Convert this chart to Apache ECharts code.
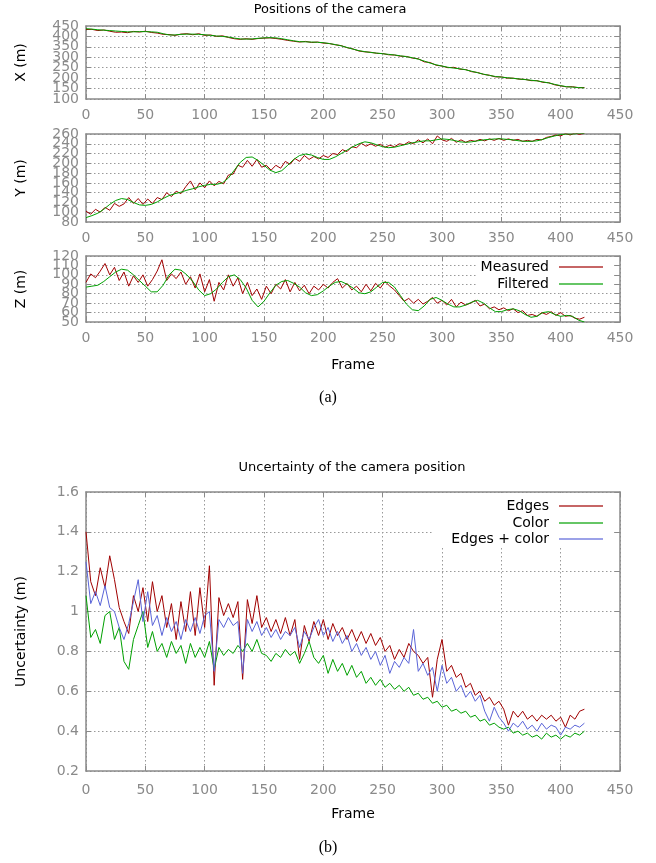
<!DOCTYPE html>
<html>
<head>
<meta charset="utf-8">
<script src="https://cdn.jsdelivr.net/npm/echarts@6/dist/echarts.min.js"></script>
<style>
  body { margin: 0; background: #fff; }
  #chart { width: 656px; height: 863px; }
</style>
</head>
<body>
<div id="chart"></div>
<script>
// frame spacing of the sampled values
const STEP_SMOOTH = 5; // filtered curves + X measured
const STEP_NOISY = 4;  // noisy measured / uncertainty curves

// (a) X position (m)
const xFiltered = [
  437,435,432,430,428,426,424,422,422,423,
  423,422,420,413,407,407,410,411,411,410,
  408,405,402,400,397,392,388,387,388,391,
  393,394,393,389,384,379,375,374,373,372,
  370,366,361,355,347,339,332,327,323,320,
  317,314,311,307,303,298,291,282,272,264,
  258,252,248,245,240,233,226,219,213,208,
  205,202,199,196,193,190,187,182,177,170,
  164,159,157,155,153
];
const xMeasured = [
  433,434,428,431,425,420,421,418,424,421,
  425,419,416,410,409,405,411,413,408,413,
  405,407,400,403,395,389,386,389,386,390,
  392,393,390,386,381,377,373,376,371,373,
  368,366,360,356,346,340,330,326,324,319,
  318,312,311,305,304,296,293,278,275,262,
  258,250,252,243,241,231,227,218,214,206,
  206,200,200,195,194,188,188,180,178,168,
  163,158,159,154,155
];

// (a) Y position (m)
const yFiltered = [
  89,93,98,106,116,124,128,126,120,115,
  114,116,121,128,134,138,141,145,148,152,
  155,157,157,160,170,186,202,212,213,206,
  196,186,181,185,196,208,216,219,217,212,
  208,208,213,220,227,234,240,244,242,238,
  234,232,233,236,239,242,244,246,246,248,
  250,249,247,244,243,244,246,248,249,250,
  250,249,248,246,245,245,246,249,253,256,
  259,260,260,261,261
];
const yMeasured = [
  102,96,106,100,110,104,118,112,117,130,
  118,128,116,127,118,130,126,140,132,143,
  138,152,164,146,160,150,164,154,163,158,
  176,178,196,192,206,194,208,192,196,186,
  196,190,204,198,210,204,216,208,214,209,
  216,212,220,218,228,224,234,232,241,235,
  240,235,239,233,237,234,240,238,244,240,
  248,242,250,240,256,248,245,251,243,248,
  243,247,245,249,246,250,247,251,247,250,
  247,249,245,247,245,249,248,253,255,258,
  256,261,258,262,259,262
];

// (a) Z position (m)
const zFiltered = [
  87,88,89,93,98,103,106,105,100,94,
  88,82,82,89,100,106,105,100,93,84,
  78,80,85,92,98,100,95,86,73,66,
  72,81,89,93,94,91,87,81,78,79,
  83,88,92,93,90,86,81,80,82,87,
  92,92,87,78,69,63,62,67,74,76,
  73,69,66,66,68,71,73,70,65,61,
  61,63,64,62,58,55,56,60,61,58,
  56,57,56,52,50
];
const zMeasured = [
  92,101,97,104,112,100,108,94,103,88,
  99,92,100,88,95,104,116,94,101,96,
  103,90,98,86,101,82,95,72,92,84,
  100,88,97,80,92,78,85,74,88,80,
  90,85,95,82,92,83,89,80,88,84,
  90,86,92,96,86,91,84,88,82,90,
  83,91,86,93,88,84,78,72,75,70,
  74,69,72,76,70,73,68,74,66,71,
  68,70,73,67,69,64,66,63,65,62,
  64,60,62,57,58,56,60,58,61,57,
  60,56,57,54,53,55
];

// (b) uncertainty (m)
const uncEdges = [
  1.40,1.15,1.08,1.22,1.12,1.28,1.16,1.02,0.95,0.89,
  1.08,1.00,1.12,0.95,1.15,1.00,1.08,0.92,1.04,0.86,
  1.05,0.90,1.10,0.88,1.12,0.92,1.23,0.63,1.07,0.98,
  1.04,0.97,1.05,0.66,1.06,0.94,1.08,0.92,0.97,0.90,
  0.96,0.89,0.97,0.88,0.96,0.76,0.93,0.85,0.95,0.88,
  0.96,0.86,0.94,0.88,0.92,0.86,0.91,0.85,0.90,0.84,
  0.89,0.83,0.87,0.80,0.83,0.76,0.81,0.77,0.84,0.80,
  0.78,0.74,0.77,0.57,0.76,0.86,0.70,0.73,0.67,0.69,
  0.62,0.64,0.58,0.60,0.55,0.57,0.53,0.55,0.51,0.43,
  0.50,0.47,0.50,0.46,0.48,0.45,0.48,0.46,0.48,0.45,
  0.47,0.42,0.48,0.46,0.50,0.51
];
const uncColor = [
  1.08,0.87,0.91,0.84,0.98,1.00,0.86,0.92,0.75,0.71,
  0.86,0.93,1.00,0.82,0.90,0.80,0.84,0.77,0.85,0.79,
  0.83,0.74,0.84,0.77,0.82,0.77,0.85,0.71,0.82,0.78,
  0.81,0.79,0.83,0.80,0.84,0.80,0.86,0.79,0.78,0.75,
  0.79,0.77,0.81,0.78,0.80,0.74,0.79,0.85,0.77,0.74,
  0.78,0.69,0.76,0.70,0.74,0.68,0.73,0.67,0.70,0.64,
  0.67,0.63,0.66,0.62,0.64,0.61,0.63,0.60,0.62,0.58,
  0.59,0.56,0.57,0.54,0.55,0.52,0.53,0.50,0.51,0.49,
  0.50,0.47,0.48,0.45,0.46,0.43,0.44,0.42,0.41,0.42,
  0.39,0.40,0.38,0.39,0.37,0.38,0.36,0.39,0.37,0.38,
  0.36,0.38,0.37,0.39,0.38,0.40
];
const uncBoth = [
  1.25,1.04,1.10,1.03,1.13,1.02,1.00,0.92,0.86,0.94,
  1.05,1.16,0.95,1.10,0.93,0.98,0.88,0.97,0.90,0.95,
  0.86,0.96,0.90,0.97,0.89,0.98,1.00,0.70,0.96,0.92,
  0.97,0.93,0.95,0.69,0.96,0.90,0.95,0.88,0.92,0.87,
  0.91,0.86,0.90,0.88,0.92,0.82,0.90,0.86,0.92,0.96,
  0.88,0.92,0.85,0.90,0.84,0.88,0.80,0.84,0.78,0.82,
  0.76,0.80,0.73,0.78,0.69,0.75,0.72,0.77,0.74,0.91,
  0.70,0.74,0.68,0.72,0.60,0.73,0.64,0.67,0.60,0.63,
  0.57,0.60,0.55,0.58,0.50,0.45,0.52,0.47,0.44,0.40,
  0.44,0.42,0.45,0.41,0.43,0.40,0.44,0.41,0.43,0.42,
  0.38,0.42,0.41,0.43,0.42,0.44
];

// axis ranges [min, max, interval] per panel
const frameRange = [0, 450, 50];
const yRanges = [[100, 450, 50], [80, 260, 20], [50, 120, 10], [0.2, 1.6, 0.2]];
const yNames = ['X (m)', 'Y (m)', 'Z (m)', 'Uncertainty (m)'];

const FONT = 'DejaVu Sans';
const GREY = '#8a8a8a';
const RED = '#a00000', GREEN = '#00a000', BLUE = '#5a64d8';

const panels = [
  { top: 26, height: 73, labelMargin: 9 },
  { top: 134, height: 88, labelMargin: 9 },
  { top: 256, height: 66, labelMargin: 9 },
  { top: 492, height: 279, labelMargin: 12 }
];

function toPoints(values, step) {
  return values.map((v, i) => [i * step, v]);
}

const axisLine = { show: true, onZero: false, lineStyle: { color: GREY, width: 1.5 } };
const axisTick = { show: true, inside: true, length: 5, lineStyle: { color: GREY, width: 1 } };
const gridLine = { show: true, lineStyle: { color: '#999', width: 1, type: [1.5, 2.5] } };
const labelStyle = { color: GREY, fontSize: 14, fontFamily: FONT };
const nameStyle = { color: '#000', fontSize: 14, fontFamily: FONT };

const grids = panels.map(p => ({ left: 86, right: 36, top: p.top, height: p.height, containLabel: false }));

const xAxes = [];
const yAxes = [];
panels.forEach((p, i) => {
  xAxes.push({
    type: 'value', gridIndex: i, position: 'bottom',
    min: frameRange[0], max: frameRange[1], interval: frameRange[2],
    axisLine, axisTick, splitLine: gridLine,
    axisLabel: Object.assign({ margin: p.labelMargin, showMinLabel: true, showMaxLabel: true }, labelStyle),
    name: i >= 2 ? 'Frame' : '', nameLocation: 'middle', nameGap: 36, nameTextStyle: nameStyle
  });
  // inner tick labels (they overlap in the small panels, like the original)
  yAxes.push({
    type: 'value', gridIndex: i, position: 'left',
    min: yRanges[i][0], max: yRanges[i][1], interval: yRanges[i][2],
    axisLine, axisTick, splitLine: gridLine,
    axisLabel: Object.assign({ margin: 7, showMinLabel: false, showMaxLabel: false }, labelStyle),
    name: yNames[i], nameLocation: 'middle', nameGap: 58, nameTextStyle: nameStyle
  });
});
// mirrored top / right axes (ticks only)
panels.forEach((p, i) => {
  xAxes.push({
    type: 'value', gridIndex: i, position: 'top',
    min: frameRange[0], max: frameRange[1], interval: frameRange[2],
    axisLine, axisTick, splitLine: { show: false }, axisLabel: { show: false }
  });
  yAxes.push({
    type: 'value', gridIndex: i, position: 'right',
    min: yRanges[i][0], max: yRanges[i][1], interval: yRanges[i][2],
    axisLine, axisTick, splitLine: { show: false }, axisLabel: { show: false }
  });
});
// end labels (min / max) of each y axis
panels.forEach((p, i) => {
  const [lo, hi] = yRanges[i];
  yAxes.push({
    type: 'value', gridIndex: i, position: 'left',
    min: lo, max: hi, interval: yRanges[i][2],
    axisLine: { show: false }, axisTick: { show: false }, splitLine: { show: false },
    axisLabel: Object.assign({
      margin: 7, showMinLabel: true, showMaxLabel: true,
      formatter: v => (Math.abs(v - lo) < 1e-9 || Math.abs(v - hi) < 1e-9) ? String(v) : ''
    }, labelStyle)
  });
});

function line(name, panel, data, color) {
  return {
    name, type: 'line', xAxisIndex: panel, yAxisIndex: panel,
    data, showSymbol: false, symbol: 'none', animation: false,
    lineStyle: { color, width: 1 }, itemStyle: { color }
  };
}

const series = [
  line('Measured', 0, toPoints(xMeasured, STEP_SMOOTH), RED),
  line('Filtered', 0, toPoints(xFiltered, STEP_SMOOTH), GREEN),
  line('Measured', 1, toPoints(yMeasured, STEP_NOISY), RED),
  line('Filtered', 1, toPoints(yFiltered, STEP_SMOOTH), GREEN),
  line('Measured', 2, toPoints(zMeasured, STEP_NOISY), RED),
  line('Filtered', 2, toPoints(zFiltered, STEP_SMOOTH), GREEN),
  line('Edges', 3, toPoints(uncEdges, STEP_NOISY), RED),
  line('Color', 3, toPoints(uncColor, STEP_NOISY), GREEN),
  line('Edges + color', 3, toPoints(uncBoth, STEP_NOISY), BLUE)
];

function legendItem(name, top) {
  return {
    data: [name], right: 53, top, orient: 'horizontal', align: 'right',
    icon: 'rect', itemWidth: 44, itemHeight: 2, padding: 0, selectedMode: false,
    itemStyle: { opacity: 0.6 },
    textStyle: { color: '#000', fontSize: 14, fontFamily: FONT, padding: [0, 5, 0, 0] }
  };
}

const chart = echarts.init(document.getElementById('chart'));
chart.setOption({
  backgroundColor: '#fff',
  animation: false,
  grid: grids,
  xAxis: xAxes,
  yAxis: yAxes,
  legend: [
    legendItem('Measured', 260),
    legendItem('Filtered', 277),
    legendItem('Edges', 499),
    legendItem('Color', 516),
    legendItem('Edges + color', 532)
  ],
  graphic: [
    { type: 'rect', z: 1, shape: { x: 477, y: 257, width: 135, height: 36 }, style: { fill: '#fff' } },
    { type: 'rect', z: 1, shape: { x: 432, y: 493, width: 180, height: 54 }, style: { fill: '#fff' } },
    { type: 'text', x: 330, y: 10, style: { text: 'Positions of the camera', font: '13px "DejaVu Sans"', fill: '#000', align: 'center', verticalAlign: 'middle' } },
    { type: 'text', x: 352, y: 468, style: { text: 'Uncertainty of the camera position', font: '13px "DejaVu Sans"', fill: '#000', align: 'center', verticalAlign: 'middle' } },
    { type: 'text', x: 328, y: 398, style: { text: '(a)', font: '16px "Liberation Serif"', fill: '#000', align: 'center', verticalAlign: 'middle' } },
    { type: 'text', x: 328, y: 848, style: { text: '(b)', font: '16px "Liberation Serif"', fill: '#000', align: 'center', verticalAlign: 'middle' } }
  ],
  series
});
</script>
</body>
</html>
